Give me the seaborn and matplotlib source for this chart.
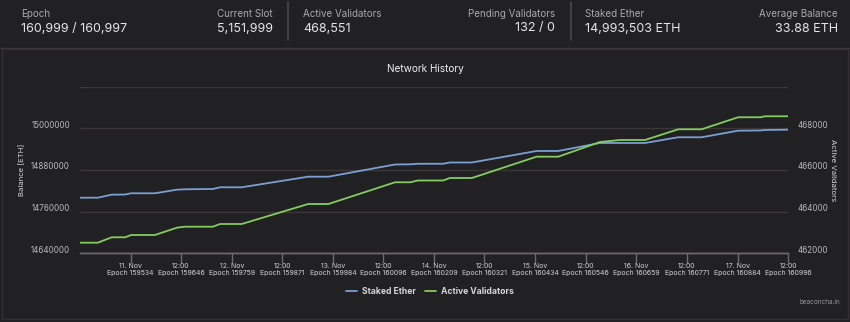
import matplotlib
matplotlib.use("Agg")
import matplotlib.pyplot as plt
import matplotlib.transforms as mtransforms
from matplotlib.lines import Line2D
from matplotlib.patches import Rectangle
import seaborn as sns
import pandas as pd

# ---------------- data ----------------
epochs = [159422, 159461, 159492, 159522, 159535, 159588, 159637, 159655, 159717, 159733,
          159781, 159929, 159974, 160122, 160156, 160173, 160229, 160244, 160293, 160437,
          160485, 160578, 160623, 160678, 160752, 160804, 160885, 160934, 160945, 160996]
staked_ether = [14800100, 14800100, 14808800, 14809300, 14812800, 14812800, 14823200, 14824300,
                14825200, 14830100, 14830100, 14860600, 14860600, 14895700, 14896300, 14897800,
                14897800, 14901500, 14901500, 14934600, 14934600, 14957700, 14957700, 14957700,
                14974100, 14974100, 14993100, 14993700, 14995100, 14996000]
active_validators = [462509, 462509, 462768, 462768, 462878, 462878, 463229, 463277, 463277,
                     463406, 463406, 464366, 464366, 465408, 465408, 465494, 465494, 465614,
                     465614, 466637, 466637, 467342, 467438, 467438, 467952, 467952, 468528,
                     468528, 468576, 468576]

tick_epochs = [159534, 159646, 159759, 159871, 159984, 160096, 160209, 160321, 160434,
               160546, 160659, 160771, 160884, 160996]
tick_dates = ["11. Nov", "12:00", "12. Nov", "12:00", "13. Nov", "12:00", "14. Nov", "12:00",
              "15. Nov", "12:00", "16. Nov", "12:00", "17. Nov", "12:00"]
left_ticks = [14640000, 14760000, 14880000, 15000000, 15120000]
left_labels = ["14640000", "14760000", "14880000", "15000000", ""]
right_ticks = [462000, 464000, 466000, 468000, 470000]
right_labels = ["462000", "464000", "466000", "468000", ""]

header_labels = ["Epoch", "Current Slot", "Active Validators", "Pending Validators",
                 "Staked Ether", "Average Balance"]
header_values = ["160,999 / 160,997", "5,151,999", "468,551", "132 / 0",
                 "14,993,503 ETH", "33.88 ETH"]

df = pd.DataFrame({"epoch": epochs, "staked": staked_ether, "active": active_validators})

# ---------------- style ----------------
BG = "#212023"
GRID = "#3b3739"
TXT = "#b8b8b8"
BLUE = "#7a9fd2"
GREEN = "#84cc5e"

sns.set_theme(style="dark")
plt.rcParams["font.family"] = ["Inter", "DejaVu Sans"]

W, H = 850, 322
fig = plt.figure(figsize=(W / 100, H / 100), dpi=100, facecolor=BG)

def fx(x):
    return x / W

def fy(y):
    return 1 - y / H

# header
hx = [(21, "left"), (273, "right"), (303, "left"), (555, "right"), (585, "left"), (838, "right")]
for (x, ha), lab, val in zip(hx, header_labels, header_values):
    fig.text(fx(x), fy(14), lab, ha=ha, va="center", color="#a9a9a9", fontsize=7.05)
    fig.text(fx(x), fy(28.5), val, ha=ha, va="center", color="#e6e6e6", fontsize=9.0)
for x in (288, 571):
    fig.add_artist(Line2D([fx(x), fx(x)], [fy(2), fy(40)], color="#4a484c", lw=1.2))
fig.add_artist(Line2D([0, 1], [fy(47.5), fy(47.5)], color="#39373b", lw=1))
fig.add_artist(Rectangle((fx(2), fy(319)), fx(846), fy(49) - fy(319), fill=False,
                         edgecolor="#323034", lw=1))

fig.text(0.5, fy(69), "Network History", ha="center", va="center", color="#f0f0f0", fontsize=7.25)

# ---------------- axes ----------------
ax = fig.add_axes([fx(80), fy(253.3), fx(708), fy(86.6) - fy(253.3)])
ax.set_facecolor(BG)
ax2 = ax.twinx()

sns.lineplot(data=df, x="epoch", y="staked", ax=ax, color=BLUE, lw=1.3, label="Staked Ether",
             legend=False)
sns.lineplot(data=df, x="epoch", y="active", ax=ax2, color=GREEN, lw=1.3,
             label="Active Validators", legend=False)

ax.set_xlim(159421.5, 160996)
ax.set_ylim(14640000, 15120000)
ax2.set_ylim(462000, 470000)

ax.set_yticks(left_ticks)
ax.set_yticklabels(left_labels)
ax2.set_yticks(right_ticks)
ax2.set_yticklabels(right_labels)
ax.grid(axis="y", color=GRID, lw=1)
ax.grid(axis="x", visible=False)
ax2.grid(False)

ax.set_xticks(tick_epochs)
ax.set_xticklabels([f"{d}\nEpoch {e}" for d, e in zip(tick_dates, tick_epochs)],
                   linespacing=1.2)
ax.tick_params(axis="x", colors="#6c6a6e", labelcolor="#d0d0d0", labelsize=5.0,
               length=7, width=1, direction="out", pad=0, bottom=True)
ax.tick_params(axis="y", length=0, labelcolor=TXT, labelsize=5.8, pad=7.2)
ax2.tick_params(axis="y", length=0, labelcolor=TXT, labelsize=5.8, pad=7.2)

offset = mtransforms.ScaledTranslation(0, 4 / 100, fig.dpi_scale_trans)
for lab in ax.get_yticklabels() + ax2.get_yticklabels():
    lab.set_transform(lab.get_transform() + offset)

for a in (ax, ax2):
    for s in ("top", "left", "right"):
        a.spines[s].set_visible(False)
    a.spines["bottom"].set_color("#6c6a6e")
    a.spines["bottom"].set_linewidth(1)

ax.set_xlabel("")
ax.set_ylabel("Balance [ETH]", color="#d8d8d8", fontsize=5.6)
ax.yaxis.set_label_coords((25 - 80) / 708, 0.5)
ax2.set_ylabel("Active Validators", color="#d8d8d8", fontsize=5.6, rotation=270, va="center")
ax2.yaxis.set_label_coords((833 - 80) / 708, 0.5)

handles = [Line2D([], [], color=BLUE, lw=1.3), Line2D([], [], color=GREEN, lw=1.3)]
leg = fig.legend(handles, ["Staked Ether", "Active Validators"], loc="center",
                 bbox_to_anchor=(fx(430), fy(291.5)), ncol=2, frameon=False,
                 handlelength=1.3, handletextpad=0.6, columnspacing=1.0,
                 prop={"size": 6.2, "weight": "bold"})
for t in leg.get_texts():
    t.set_color("#d6d6d6")

fig.text(fx(840), fy(302), "beaconcha.in", ha="right", va="center", color="#9a9a9a", fontsize=4.6)

fig.savefig("out.png", dpi=100, facecolor=BG)
